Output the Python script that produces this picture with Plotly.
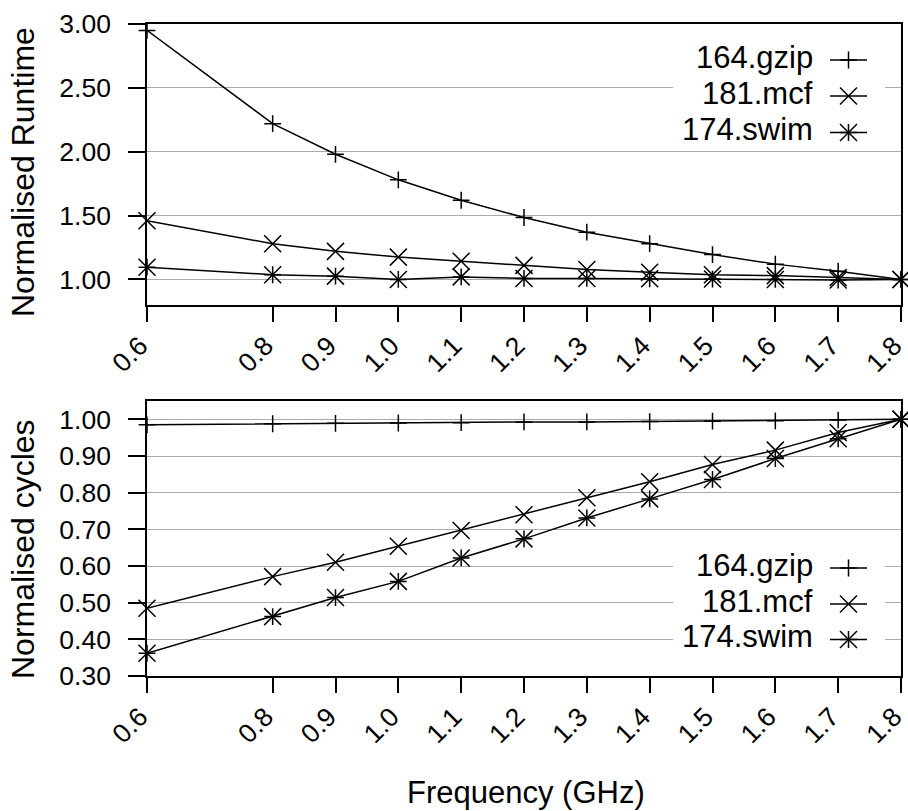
import plotly.graph_objects as go

# ---------------- data ----------------
freq = [0.6, 0.8, 0.9, 1.0, 1.1, 1.2, 1.3, 1.4, 1.5, 1.6, 1.7, 1.8]
freq_ticks = [0.6, 0.8, 0.9, 1.0, 1.1, 1.2, 1.3, 1.4, 1.5, 1.6, 1.7, 1.8]
freq_ticktext = ["0.6", "0.8", "0.9", "1.0", "1.1", "1.2", "1.3", "1.4", "1.5", "1.6", "1.7", "1.8"]

runtime_gzip = [2.95, 2.22, 1.98, 1.78, 1.62, 1.485, 1.37, 1.28, 1.195, 1.12, 1.065, 1.0]
runtime_mcf = [1.46, 1.28, 1.22, 1.175, 1.143, 1.11, 1.078, 1.057, 1.037, 1.03, 1.015, 1.0]
runtime_swim = [1.096, 1.037, 1.026, 1.0, 1.02, 1.008, 1.008, 1.005, 1.003, 1.0, 0.995, 1.0]

cycles_gzip = [0.985, 0.988, 0.989, 0.990, 0.991, 0.993, 0.993, 0.994, 0.995, 0.996, 0.998, 1.0]
cycles_mcf = [0.485, 0.571, 0.610, 0.654, 0.697, 0.740, 0.786, 0.830, 0.877, 0.916, 0.964, 1.0]
cycles_swim = [0.362, 0.462, 0.514, 0.558, 0.622, 0.674, 0.731, 0.783, 0.836, 0.893, 0.947, 1.0]

runtime_ticks = [1.0, 1.5, 2.0, 2.5, 3.0]
runtime_ticktext = ["1.00", "1.50", "2.00", "2.50", "3.00"]
cycles_ticks = [0.3, 0.4, 0.5, 0.6, 0.7, 0.8, 0.9, 1.0]
cycles_ticktext = ["0.30", "0.40", "0.50", "0.60", "0.70", "0.80", "0.90", "1.00"]

series_names = ["164.gzip", "181.mcf", "174.swim"]

# ---------------- styling ----------------
FONT = "Liberation Sans, Arial, Helvetica, sans-serif"
LW = 1.5
PLUS = dict(symbol="cross-thin", size=12)
CROSS = dict(symbol="x-thin", size=17)
TICK_SIZE = 26.5
LEG_SIZE = 31
YTITLE_SIZE = 32
XTITLE_SIZE = 31

fig = go.Figure()


def add_line(x, y, xa, ya, mk):
    fig.add_trace(go.Scatter(
        x=x, y=y, mode="lines+markers", xaxis=xa, yaxis=ya,
        line=dict(color="black", width=LW),
        marker=dict(symbol=mk["symbol"], size=mk["size"], color="black",
                    line=dict(color="black", width=LW)),
        showlegend=False, cliponaxis=False, hoverinfo="x+y"))


def add_marks(x, y, xa, ya, mk):
    fig.add_trace(go.Scatter(
        x=x, y=y, mode="markers", xaxis=xa, yaxis=ya,
        marker=dict(symbol=mk["symbol"], size=mk["size"], color="black",
                    line=dict(color="black", width=LW)),
        showlegend=False, cliponaxis=False, hoverinfo="skip"))


# top panel
add_line(freq, runtime_gzip, "x", "y", PLUS)
add_line(freq, runtime_mcf, "x", "y", CROSS)
add_line(freq, runtime_swim, "x", "y", PLUS)
add_marks(freq, runtime_swim, "x", "y", CROSS)
# bottom panel
add_line(freq, cycles_gzip, "x2", "y2", PLUS)
add_line(freq, cycles_mcf, "x2", "y2", CROSS)
add_line(freq, cycles_swim, "x2", "y2", PLUS)
add_marks(freq, cycles_swim, "x2", "y2", CROSS)

# ---------------- custom gnuplot-style legends (pixel overlay axes) ----------------
W, H = 908, 811
ML, MR, MT, MB = 147, 7, 24, 135
legend_rows_top = [60, 96, 132.5]
legend_rows_bottom = [568, 604, 639.5]
sample_x0, sample_x1, sample_xm, text_right = 830, 867, 848.5, 815
legend_marks = [[PLUS], [CROSS], [PLUS, CROSS]]

shapes = []
annotations = []
for rows, (box_y0, box_y1) in ((legend_rows_top, (42, 150)), (legend_rows_bottom, (550, 657))):
    shapes.append(dict(type="rect", xref="x3", yref="y3", x0=673, x1=885, y0=box_y0, y1=box_y1,
                       fillcolor="white", line=dict(width=0), layer="between"))
    for name, ry, mks in zip(series_names, rows, legend_marks):
        fig.add_trace(go.Scatter(x=[sample_x0, sample_x1], y=[ry, ry], mode="lines",
                                 xaxis="x3", yaxis="y3", line=dict(color="black", width=LW),
                                 showlegend=False, hoverinfo="skip"))
        for mk in mks:
            add_marks([sample_xm], [ry], "x3", "y3", mk)
        annotations.append(dict(x=text_right, y=ry - 3, xref="x3", yref="y3", text=name,
                                showarrow=False, xanchor="right", yanchor="middle",
                                font=dict(family=FONT, size=LEG_SIZE, color="black")))


def px_x(px):
    return (px - ML) / (W - ML - MR)


def px_y(py):
    return (H - MB - py) / (H - MT - MB)


annotations += [
    dict(x=px_x(23), y=px_y(172), xref="paper", yref="paper", text="Normalised Runtime",
         textangle=-90, showarrow=False, xanchor="center", yanchor="middle",
         font=dict(family=FONT, size=YTITLE_SIZE, color="black")),
    dict(x=px_x(23), y=px_y(549), xref="paper", yref="paper", text="Normalised cycles",
         textangle=-90, showarrow=False, xanchor="center", yanchor="middle",
         font=dict(family=FONT, size=YTITLE_SIZE, color="black")),
    dict(x=px_x(526), y=px_y(792), xref="paper", yref="paper", text="Frequency (GHz)",
         showarrow=False, xanchor="center", yanchor="middle",
         font=dict(family=FONT, size=XTITLE_SIZE, color="black")),
]

xaxis_common = dict(
    range=[0.6, 1.8], tickmode="array", tickvals=freq_ticks, ticktext=freq_ticktext,
    tickangle=-45, ticks="outside", ticklen=15, tickwidth=LW, tickcolor="black",
    showline=True, linecolor="black", linewidth=LW, mirror=True,
    showgrid=False, zeroline=False, ticklabeloverflow="allow", automargin=False,
    ticklabelshift=-7, ticklabelstandoff=-2,
    tickfont=dict(family=FONT, size=TICK_SIZE, color="black"),
)
yaxis_common = dict(
    tickmode="array", ticks="outside", ticklen=17, tickwidth=LW, tickcolor="black",
    showline=True, linecolor="black", linewidth=LW, mirror=True,
    showgrid=True, gridcolor="#aaaaaa", gridwidth=1, zeroline=False, automargin=False,
    tickfont=dict(family=FONT, size=TICK_SIZE, color="black"), ticklabelstandoff=12,
)

top_dom = [px_y(305), px_y(24)]
bot_dom = [px_y(676), px_y(401)]

fig.update_layout(
    width=W, height=H,
    margin=dict(l=ML, r=MR, t=MT, b=MB, autoexpand=False),
    paper_bgcolor="white", plot_bgcolor="rgba(0,0,0,0)",
    font=dict(family=FONT, color="black"),
    showlegend=False,
    xaxis=dict(**xaxis_common, domain=[0, 1], anchor="y"),
    yaxis=dict(**yaxis_common, domain=top_dom, anchor="x", range=[0.8, 3.0],
               tickvals=runtime_ticks, ticktext=runtime_ticktext),
    xaxis2=dict(**xaxis_common, domain=[0, 1], anchor="y2"),
    yaxis2=dict(**yaxis_common, domain=bot_dom, anchor="x2", range=[0.3, 1.05],
                tickvals=cycles_ticks, ticktext=cycles_ticktext),
    xaxis3=dict(domain=[0, 1], range=[ML, W - MR], visible=False, anchor="y3",
                fixedrange=True, automargin=False),
    yaxis3=dict(domain=[0, 1], range=[H - MB, MT], visible=False, anchor="x3",
                fixedrange=True, automargin=False),
    shapes=shapes,
    annotations=annotations,
)

fig.write_html("out.html")
